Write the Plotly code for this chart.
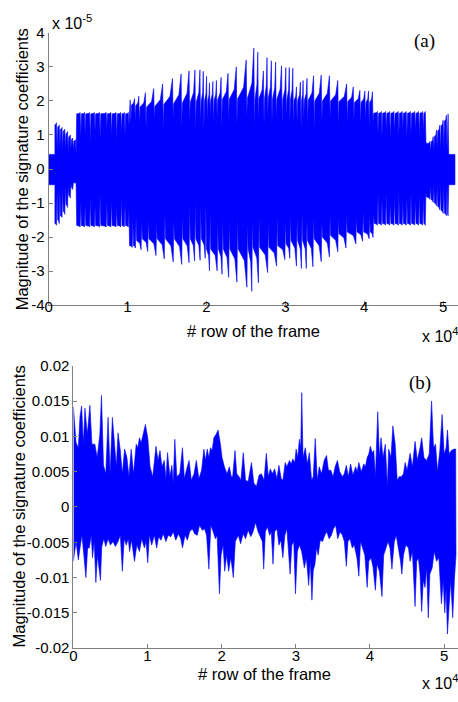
import plotly.graph_objects as go

W, H = 458, 702
BLUE = "rgb(0,0,255)"

# ================= (a) =================
# x in units of 1e4 rows, y in units of 1e-5
A_SIG_END = 5.15
A_TEETH_START = 0.08
A_TEETH_END = 5.075
A_UP_EDGE = 0.43
A_LO_EDGE = -0.46

# upper envelope: each tooth rises from "base" to "tip" at x, then drops to "dip"
A_UP_X = [0.100, 0.135, 0.170, 0.205, 0.240, 0.275, 0.305, 0.340,
          0.400, 0.455, 0.520, 0.580, 0.645, 0.730, 0.790, 0.855, 0.915, 0.960, 1.010,
          1.034, 1.089, 1.143, 1.227, 1.332, 1.445, 1.570, 1.679, 1.780, 1.855,
          1.918, 1.960, 2.002, 2.039, 2.082, 2.127, 2.186, 2.274, 2.379, 2.504,
          2.601, 2.651, 2.722, 2.768, 2.823, 2.877, 2.952, 3.006, 3.050, 3.095,
          3.141, 3.191, 3.225, 3.275, 3.358, 3.455, 3.559, 3.665, 3.777, 3.861,
          3.945, 4.008, 4.054, 4.104,
          4.167, 4.217, 4.271, 4.322, 4.376, 4.431, 4.481, 4.532, 4.585, 4.640, 4.690, 4.740, 4.774,
          4.833, 4.874, 4.916, 4.958, 5.000, 5.041, 5.063]
A_UP_TIP = [1.36, 1.29, 1.22, 1.17, 1.10, 1.00, 0.91, 0.86,
            1.66, 1.66, 1.66, 1.66, 1.66, 1.66, 1.66, 1.66, 1.66, 1.66, 1.66,
            2.03, 2.07, 2.14, 2.24, 2.36, 2.50, 2.66, 2.79, 2.88, 2.91,
            2.91, 2.87, 2.72, 2.53, 2.57, 2.60, 2.69, 2.81, 3.00, 3.20,
            3.55, 3.43, 2.88, 3.27, 3.18, 3.14, 3.03, 2.98, 2.98, 2.96,
            2.41, 2.55, 2.60, 2.66, 2.74, 2.76, 2.74, 2.60, 2.50, 2.41,
            2.31, 2.29, 2.29, 2.27,
            1.69, 1.69, 1.69, 1.69, 1.69, 1.69, 1.69, 1.69, 1.69, 1.69, 1.69, 1.69, 1.69,
            0.81, 0.95, 1.15, 1.29, 1.43, 1.58, 1.62]
A_UP_BASE = [1.30, 1.24, 1.17, 1.12, 1.04, 0.95, 0.87, 0.82,
             1.62, 1.62, 1.62, 1.62, 1.62, 1.62, 1.62, 1.62, 1.62, 1.62, 1.62,
             1.88, 1.88, 1.86, 1.82, 1.82, 1.84, 1.90, 1.92, 1.94, 1.96,
             1.96, 1.98, 2.00, 2.02, 2.02, 2.02, 2.03, 2.04, 2.05, 2.06,
             2.08, 2.08, 2.08, 2.08, 2.08, 2.06, 2.05, 2.05, 2.05, 2.05,
             2.02, 2.02, 2.02, 2.02, 2.02, 2.00, 2.00, 2.00, 1.98, 1.98,
             1.96, 1.96, 1.96, 1.96,
             1.64, 1.64, 1.64, 1.64, 1.64, 1.64, 1.64, 1.64, 1.64, 1.64, 1.64, 1.64, 1.64,
             0.74, 0.80, 0.95, 1.12, 1.27, 1.40, 1.56]
A_UP_DIP = [0.55, 0.62, 0.55, 0.60, 0.52, 0.60, 0.55, 0.45,
            0.95, 1.05, 0.80, 1.10, 0.90, 1.20, 1.00, 0.85, 1.10, 1.00, 1.30,
            1.35, 1.40, 1.30, 1.20, 1.45, 1.15, 1.50, 1.25, 1.40, 1.10,
            1.30, 1.20, 1.45, 1.60, 1.35, 1.50, 1.25, 1.40, 1.30, 1.55,
            1.20, 1.40, 1.30, 1.50, 1.35, 1.45, 1.30, 1.55, 1.40, 1.25,
            1.35, 1.20, 1.45, 1.30, 1.15, 1.40, 1.50, 1.25, 1.35, 1.45,
            1.30, 1.40, 1.25, 1.35,
            1.05, 0.95, 1.15, 0.85, 1.10, 1.00, 1.20, 0.90, 1.05, 1.15, 0.95, 1.10, 0.80,
            0.50, 0.55, 0.60, 0.55, 0.60, 0.55, 0.45]

A_LO_X = [0.100, 0.135, 0.170, 0.205, 0.240, 0.275, 0.305, 0.340,
          0.400, 0.455, 0.520, 0.580, 0.645, 0.730, 0.790, 0.855, 0.915, 0.960, 1.010,
          1.060, 1.100, 1.172, 1.256, 1.361, 1.466, 1.579, 1.687, 1.780, 1.850,
          1.920, 1.985, 2.039, 2.136, 2.198, 2.282, 2.387, 2.513, 2.575, 2.659,
          2.776, 2.889, 2.994, 3.057, 3.141, 3.204, 3.266, 3.350, 3.455, 3.559,
          3.665, 3.769, 3.894, 3.979, 4.062, 4.112,
          4.167, 4.217, 4.271, 4.322, 4.376, 4.431, 4.481, 4.532, 4.585, 4.640, 4.690, 4.740, 4.774,
          4.833, 4.874, 4.916, 4.958, 5.000, 5.041, 5.063]
A_LO_TIP = [-1.65, -1.60, -1.42, -1.33, -1.13, -0.85, -0.60, -0.42,
            -1.70, -1.70, -1.70, -1.70, -1.70, -1.70, -1.70, -1.70, -1.70, -1.70, -1.70,
            -2.30, -2.32, -2.37, -2.42, -2.54, -2.64, -2.73, -2.80, -2.75, -2.70,
            -2.68, -2.62, -2.99, -2.99, -3.09, -3.18, -3.32, -3.47, -3.59, -3.34,
            -3.04, -2.85, -2.66, -2.62, -2.85, -2.92, -2.92, -2.87, -2.72, -2.58,
            -2.43, -2.32, -2.20, -2.12, -2.05, -2.01,
            -1.65, -1.65, -1.65, -1.65, -1.65, -1.65, -1.65, -1.65, -1.65, -1.65, -1.65, -1.65, -1.65,
            -0.89, -0.98, -1.08, -1.20, -1.30, -1.37, -1.37]
A_LO_BASE = [-1.60, -1.50, -1.38, -1.25, -1.05, -0.78, -0.55, -0.40,
             -1.66, -1.66, -1.66, -1.66, -1.66, -1.66, -1.66, -1.66, -1.66, -1.66, -1.66,
             -2.25, -2.25, -2.10, -2.05, -2.05, -2.05, -2.05, -2.05, -2.05, -2.05,
             -2.05, -2.05, -2.35, -2.35, -2.35, -2.35, -2.35, -2.35, -2.35, -2.30,
             -2.30, -2.30, -2.25, -2.20, -2.10, -2.10, -2.10, -2.10, -2.05, -2.00,
             -1.95, -1.90, -1.85, -1.85, -1.85, -1.85,
             -1.60, -1.60, -1.60, -1.60, -1.60, -1.60, -1.60, -1.60, -1.60, -1.60, -1.60, -1.60, -1.60,
             -0.82, -0.90, -1.00, -1.10, -1.22, -1.30, -1.32]
A_LO_DIP = [-0.55, -0.60, -0.55, -0.50, -0.50, -0.45, -0.42, -0.38,
            -0.95, -1.05, -0.80, -1.10, -0.75, -1.00, -0.90, -1.15, -0.85, -1.05, -1.20,
            -1.50, -1.40, -1.55, -1.45, -1.60, -1.35, -1.50, -1.40, -1.05, -1.00,
            -1.10, -1.00, -1.30, -1.60, -1.45, -1.55, -1.40, -1.60, -1.50, -1.45,
            -1.55, -1.40, -1.50, -1.35, -1.45, -1.30, -1.50, -1.40, -1.55, -1.35,
            -1.45, -1.30, -1.40, -1.25, -1.35, -1.30,
            -0.75, -0.90, -0.70, -1.00, -0.80, -0.70, -0.95, -0.80, -0.70, -0.90, -0.75, -0.85, -0.70,
            -0.50, -0.50, -0.50, -0.50, -0.50, -0.50, -0.50]

A_XTICKS = [0, 1, 2, 3, 4, 5]
A_XTICK_TEXT = ["0", "1", "2", "3", "4", "5"]
A_YTICKS = [-4, -3, -2, -1, 0, 1, 2, 3, 4]
A_YTICK_TEXT = ["-4", "-3", "-2", "-1", "0", "1", "2", "3", "4"]

# ================= (b) =================
B_UP_X = [0.000, 0.036, 0.067, 0.089, 0.111, 0.134, 0.156, 0.187, 0.223, 0.250,
          0.290, 0.321, 0.357, 0.379, 0.406, 0.437, 0.468, 0.495, 0.526, 0.557,
          0.579, 0.602, 0.633, 0.660, 0.691, 0.722, 0.749, 0.780, 0.811, 0.847,
          0.869, 0.891, 0.914, 0.945, 0.971, 1.003, 1.034, 1.070, 1.114, 1.141,
          1.168, 1.194, 1.225, 1.248, 1.270, 1.301, 1.328, 1.346, 1.368, 1.395,
          1.435, 1.471, 1.497, 1.528, 1.560, 1.591, 1.627, 1.658, 1.693, 1.729,
          1.760, 1.783, 1.805, 1.827, 1.849, 1.872, 1.894, 1.925, 1.952, 1.983,
          2.005, 2.037, 2.072, 2.103, 2.130, 2.148, 2.180, 2.203, 2.234, 2.259,
          2.291, 2.322, 2.357, 2.402, 2.433, 2.469, 2.504, 2.536, 2.571, 2.602,
          2.629, 2.656, 2.683, 2.714, 2.745, 2.772, 2.803, 2.825, 2.857, 2.879,
          2.914, 2.937, 2.959, 2.986, 3.004, 3.026, 3.048, 3.066, 3.080, 3.097,
          3.128, 3.155, 3.182, 3.213, 3.235, 3.262, 3.289, 3.316, 3.347, 3.382,
          3.414, 3.440, 3.471, 3.503, 3.530, 3.561, 3.592, 3.628, 3.654, 3.681,
          3.708, 3.739, 3.770, 3.806, 3.828, 3.850, 3.882, 3.917, 3.939, 3.962,
          3.984, 4.006, 4.029, 4.051, 4.073, 4.105, 4.127, 4.149, 4.176, 4.207,
          4.234, 4.252, 4.283, 4.309, 4.340, 4.367, 4.394, 4.421, 4.452, 4.474,
          4.501, 4.541, 4.572, 4.608, 4.639, 4.675, 4.697, 4.728, 4.764, 4.799,
          4.831, 4.857, 4.884, 4.911, 4.942, 4.973, 5.000, 5.027, 5.045, 5.067,
          5.098, 5.134, 5.156]
B_UP_Y = [0.0142, 0.0091, 0.0084, 0.0128, 0.0143, 0.0089, 0.0140, 0.0103, 0.0144, 0.0089,
          0.0089, 0.0070, 0.0103, 0.0158, 0.0059, 0.0047, 0.0127, 0.0047, 0.0127, 0.0089,
          0.0057, 0.0105, 0.0080, 0.0047, 0.0082, 0.0070, 0.0043, 0.0082, 0.0047, 0.0089,
          0.0084, 0.0098, 0.0091, 0.0105, 0.0117, 0.0098, 0.0057, 0.0043, 0.0086, 0.0066,
          0.0080, 0.0057, 0.0066, 0.0040, 0.0077, 0.0043, 0.0059, 0.0034, 0.0096, 0.0043,
          0.0047, 0.0084, 0.0040, 0.0054, 0.0066, 0.0038, 0.0047, 0.0066, 0.0040, 0.0052,
          0.0082, 0.0066, 0.0082, 0.0070, 0.0084, 0.0080, 0.0098, 0.0103, 0.0109, 0.0089,
          0.0070, 0.0057, 0.0047, 0.0057, 0.0043, 0.0043, 0.0080, 0.0047, 0.0043, 0.0038,
          0.0077, 0.0038, 0.0036, 0.0063, 0.0034, 0.0029, 0.0045, 0.0047, 0.0038, 0.0076,
          0.0043, 0.0054, 0.0047, 0.0054, 0.0040, 0.0059, 0.0040, 0.0038, 0.0063, 0.0057,
          0.0066, 0.0061, 0.0068, 0.0063, 0.0082, 0.0070, 0.0096, 0.0084, 0.0162, 0.0070,
          0.0084, 0.0061, 0.0077, 0.0038, 0.0043, 0.0097, 0.0038, 0.0057, 0.0047, 0.0066,
          0.0073, 0.0052, 0.0052, 0.0043, 0.0057, 0.0066, 0.0050, 0.0043, 0.0047, 0.0059,
          0.0043, 0.0061, 0.0045, 0.0057, 0.0050, 0.0063, 0.0050, 0.0061, 0.0057, 0.0070,
          0.0075, 0.0086, 0.0077, 0.0080, 0.0043, 0.0135, 0.0070, 0.0098, 0.0070, 0.0089,
          0.0029, 0.0082, 0.0070, 0.0115, 0.0089, 0.0038, 0.0043, 0.0043, 0.0047, 0.0063,
          0.0052, 0.0076, 0.0057, 0.0093, 0.0066, 0.0084, 0.0098, 0.0070, 0.0066, 0.0075,
          0.0150, 0.0084, 0.0089, 0.0050, 0.0080, 0.0131, 0.0075, 0.0084, 0.0109, 0.0075,
          0.0080, 0.0082, 0.0082]
B_LO_X = [0.000, 0.036, 0.067, 0.089, 0.116, 0.143, 0.169, 0.192, 0.214, 0.241,
          0.258, 0.281, 0.303, 0.325, 0.339, 0.365, 0.383, 0.410, 0.437, 0.468,
          0.499, 0.535, 0.566, 0.602, 0.633, 0.660, 0.686, 0.713, 0.740, 0.758,
          0.784, 0.824, 0.856, 0.891, 0.922, 0.958, 0.980, 1.003, 1.025, 1.056,
          1.092, 1.123, 1.150, 1.181, 1.212, 1.248, 1.279, 1.315, 1.346, 1.381,
          1.417, 1.448, 1.471, 1.506, 1.537, 1.569, 1.604, 1.635, 1.671, 1.702,
          1.738, 1.769, 1.796, 1.827, 1.854, 1.885, 1.916, 1.938, 1.970, 1.992,
          2.019, 2.041, 2.068, 2.094, 2.121, 2.135, 2.157, 2.184, 2.224, 2.255,
          2.291, 2.322, 2.357, 2.393, 2.424, 2.456, 2.491, 2.522, 2.549, 2.567,
          2.589, 2.616, 2.647, 2.669, 2.692, 2.714, 2.745, 2.772, 2.799, 2.825,
          2.852, 2.879, 2.901, 2.923, 2.946, 2.972, 2.995, 3.021, 3.048, 3.079,
          3.115, 3.142, 3.173, 3.195, 3.217, 3.235, 3.258, 3.280, 3.302, 3.329,
          3.360, 3.391, 3.418, 3.449, 3.480, 3.507, 3.538, 3.565, 3.597, 3.628,
          3.655, 3.681, 3.703, 3.730, 3.761, 3.788, 3.824, 3.850, 3.873, 3.904,
          3.930, 3.962, 3.984, 4.015, 4.042, 4.073, 4.095, 4.127, 4.162, 4.185,
          4.216, 4.243, 4.270, 4.296, 4.328, 4.354, 4.385, 4.412, 4.430, 4.452,
          4.483, 4.519, 4.541, 4.572, 4.608, 4.630, 4.653, 4.675, 4.697, 4.719,
          4.742, 4.764, 4.786, 4.808, 4.840, 4.866, 4.898, 4.929, 4.964, 4.987,
          5.009, 5.027, 5.045, 5.067, 5.089, 5.116, 5.138, 5.160]
B_LO_Y = [-0.0077, -0.0049, -0.0075, -0.0058, -0.0040, -0.0068, -0.0100, -0.0058, -0.0058, -0.0040,
          -0.0072, -0.0049, -0.0107, -0.0068, -0.0077, -0.0104, -0.0056, -0.0045, -0.0056, -0.0045,
          -0.0054, -0.0049, -0.0056, -0.0049, -0.0040, -0.0091, -0.0045, -0.0054, -0.0045, -0.0063,
          -0.0047, -0.0077, -0.0054, -0.0063, -0.0045, -0.0058, -0.0049, -0.0079, -0.0040, -0.0054,
          -0.0040, -0.0058, -0.0042, -0.0047, -0.0038, -0.0049, -0.0040, -0.0042, -0.0035, -0.0047,
          -0.0038, -0.0045, -0.0058, -0.0040, -0.0047, -0.0035, -0.0031, -0.0038, -0.0040, -0.0026,
          -0.0033, -0.0031, -0.0040, -0.0088, -0.0026, -0.0035, -0.0045, -0.0040, -0.0123, -0.0068,
          -0.0054, -0.0091, -0.0068, -0.0091, -0.0072, -0.0081, -0.0100, -0.0049, -0.0040, -0.0052,
          -0.0038, -0.0045, -0.0033, -0.0042, -0.0035, -0.0022, -0.0035, -0.0042, -0.0049, -0.0088,
          -0.0035, -0.0028, -0.0040, -0.0035, -0.0081, -0.0035, -0.0031, -0.0054, -0.0047, -0.0072,
          -0.0040, -0.0031, -0.0058, -0.0095, -0.0054, -0.0049, -0.0123, -0.0063, -0.0054, -0.0063,
          -0.0086, -0.0072, -0.0111, -0.0077, -0.0132, -0.0090, -0.0081, -0.0058, -0.0068, -0.0047,
          -0.0049, -0.0040, -0.0035, -0.0045, -0.0040, -0.0031, -0.0026, -0.0045, -0.0035, -0.0040,
          -0.0049, -0.0084, -0.0049, -0.0045, -0.0058, -0.0054, -0.0072, -0.0098, -0.0049, -0.0058,
          -0.0068, -0.0114, -0.0077, -0.0072, -0.0086, -0.0118, -0.0081, -0.0091, -0.0127, -0.0068,
          -0.0058, -0.0049, -0.0058, -0.0088, -0.0049, -0.0040, -0.0058, -0.0077, -0.0095, -0.0068,
          -0.0054, -0.0058, -0.0077, -0.0063, -0.0141, -0.0077, -0.0072, -0.0095, -0.0148, -0.0104,
          -0.0114, -0.0086, -0.0157, -0.0095, -0.0086, -0.0063, -0.0077, -0.0072, -0.0137, -0.0104,
          -0.0150, -0.0115, -0.0180, -0.0141, -0.0104, -0.0157, -0.0104, -0.0068]

B_XTICKS = [0, 1, 2, 3, 4, 5]
B_XTICK_TEXT = ["0", "1", "2", "3", "4", "5"]
B_YTICKS = [-0.02, -0.015, -0.01, -0.005, 0, 0.005, 0.01, 0.015, 0.02]
B_YTICK_TEXT = ["-0.02", "-0.015", "-0.01", "-0.005", "0", "0.005", "0.01", "0.015", "0.02"]

YTITLE = "Magnitude of the signature coefficients"
XTITLE = "# row of the frame"

assert len(A_UP_X) == len(A_UP_TIP) == len(A_UP_BASE) == len(A_UP_DIP)
assert len(A_LO_X) == len(A_LO_TIP) == len(A_LO_BASE) == len(A_LO_DIP)
assert len(B_UP_X) == len(B_UP_Y) and len(B_LO_X) == len(B_LO_Y)


def teeth_outline(start, end, total_end, edge, xs, tips, bases, dips, eps=0.008):
    """Envelope made of saw teeth: concave rise base->tip, sharp drop to dip."""
    px, py = [0.0, start], [edge, edge]
    s = start
    for x, t, b, d in zip(xs, tips, bases, dips):
        px += [s, s + 0.7 * (x - s), x, x + eps]
        py += [b, b + 0.3 * (t - b), t, d]
        s = x + 2 * eps
    px += [end, total_end]
    py += [edge, edge]
    return px, py


aux, auy = teeth_outline(A_TEETH_START, A_TEETH_END, A_SIG_END, A_UP_EDGE,
                         A_UP_X, A_UP_TIP, A_UP_BASE, A_UP_DIP)
alx, aly = teeth_outline(A_TEETH_START, A_TEETH_END, A_SIG_END, A_LO_EDGE,
                         A_LO_X, A_LO_TIP, A_LO_BASE, A_LO_DIP)

fig = go.Figure()
fig.add_trace(go.Scatter(x=aux + alx[::-1], y=auy + aly[::-1], mode="lines",
                         fill="toself", fillcolor=BLUE,
                         line=dict(color=BLUE, width=0.6),
                         xaxis="x", yaxis="y", hoverinfo="skip", showlegend=False))
fig.add_trace(go.Scatter(x=B_UP_X + B_LO_X[::-1], y=B_UP_Y + B_LO_Y[::-1], mode="lines",
                         fill="toself", fillcolor=BLUE,
                         line=dict(color=BLUE, width=0.6),
                         xaxis="x2", yaxis="y2", hoverinfo="skip", showlegend=False))

FONT = "Liberation Sans, Arial, sans-serif"
AX_COLOR = "#808080"


def px_x(p):
    return p / W


def px_y(p):
    return 1 - p / H


common = dict(showline=True, linecolor=AX_COLOR, linewidth=1, ticks="inside",
              ticklen=4, tickcolor=AX_COLOR, showgrid=False, zeroline=False,
              mirror=False, tickfont=dict(family=FONT, size=15, color="black"))

# (a) axes: x0 at 45px, 79.6 px per 1e4; y +-4 at 24.4/303.6 px
fig.update_layout(
    xaxis=dict(domain=[px_x(45), 1], range=[0, (W - 45) / 79.6], anchor="y",
               tickvals=A_XTICKS, ticktext=A_XTICK_TEXT, ticklabelstandoff=-12, **common),
    yaxis=dict(domain=[px_y(303.6), px_y(24.4)], range=[-4, 4], anchor="x",
               tickvals=A_YTICKS, ticktext=A_YTICK_TEXT, **common),
    xaxis2=dict(domain=[px_x(70), 1], range=[0, (W - 70) / 74.8], anchor="y2",
                tickvals=B_XTICKS, ticktext=B_XTICK_TEXT, ticklabelstandoff=-6, **common),
    yaxis2=dict(domain=[px_y(655), px_y(365.7)], range=[-0.02, 0.02], anchor="x2",
                tickvals=B_YTICKS, ticktext=B_YTICK_TEXT, **common),
)

ann = []
txt = dict(family=FONT, size=16.5, color="black")
mult = dict(family=FONT, size=16, color="black")
ann.append(dict(text=YTITLE, x=px_x(18.5), y=px_y(164), textangle=-90, font=txt,
                xanchor="center", yanchor="middle"))
ann.append(dict(text=YTITLE, x=px_x(15), y=px_y(510), textangle=-90, font=txt,
                xanchor="center", yanchor="middle"))
ann.append(dict(text=XTITLE, x=px_x(251.5), y=px_y(330), font=txt,
                xanchor="center", yanchor="middle"))
ann.append(dict(text=XTITLE, x=px_x(263), y=px_y(682), font=txt,
                xanchor="center", yanchor="middle"))
ann.append(dict(text="x 10<sup>-5</sup>", x=px_x(46), y=px_y(13), font=mult,
                xanchor="left", yanchor="middle"))
ann.append(dict(text="x 10<sup>4</sup>", x=px_x(420), y=px_y(334), font=mult,
                xanchor="left", yanchor="middle"))
ann.append(dict(text="x 10<sup>4</sup>", x=px_x(420), y=px_y(690), font=mult,
                xanchor="left", yanchor="middle"))
serif = dict(family="Liberation Serif, Times New Roman, serif", size=19, color="black")
ann.append(dict(text="(a)", x=px_x(424), y=px_y(33), font=serif,
                xanchor="center", yanchor="middle"))
ann.append(dict(text="(b)", x=px_x(420), y=px_y(383), font=serif,
                xanchor="center", yanchor="middle"))
for a in ann:
    a.update(xref="paper", yref="paper", showarrow=False)

fig.update_layout(width=W, height=H, margin=dict(l=0, r=0, t=0, b=0),
                  paper_bgcolor="white", plot_bgcolor="white",
                  annotations=ann, showlegend=False)

fig.write_html("out.html", config={"displayModeBar": False})
